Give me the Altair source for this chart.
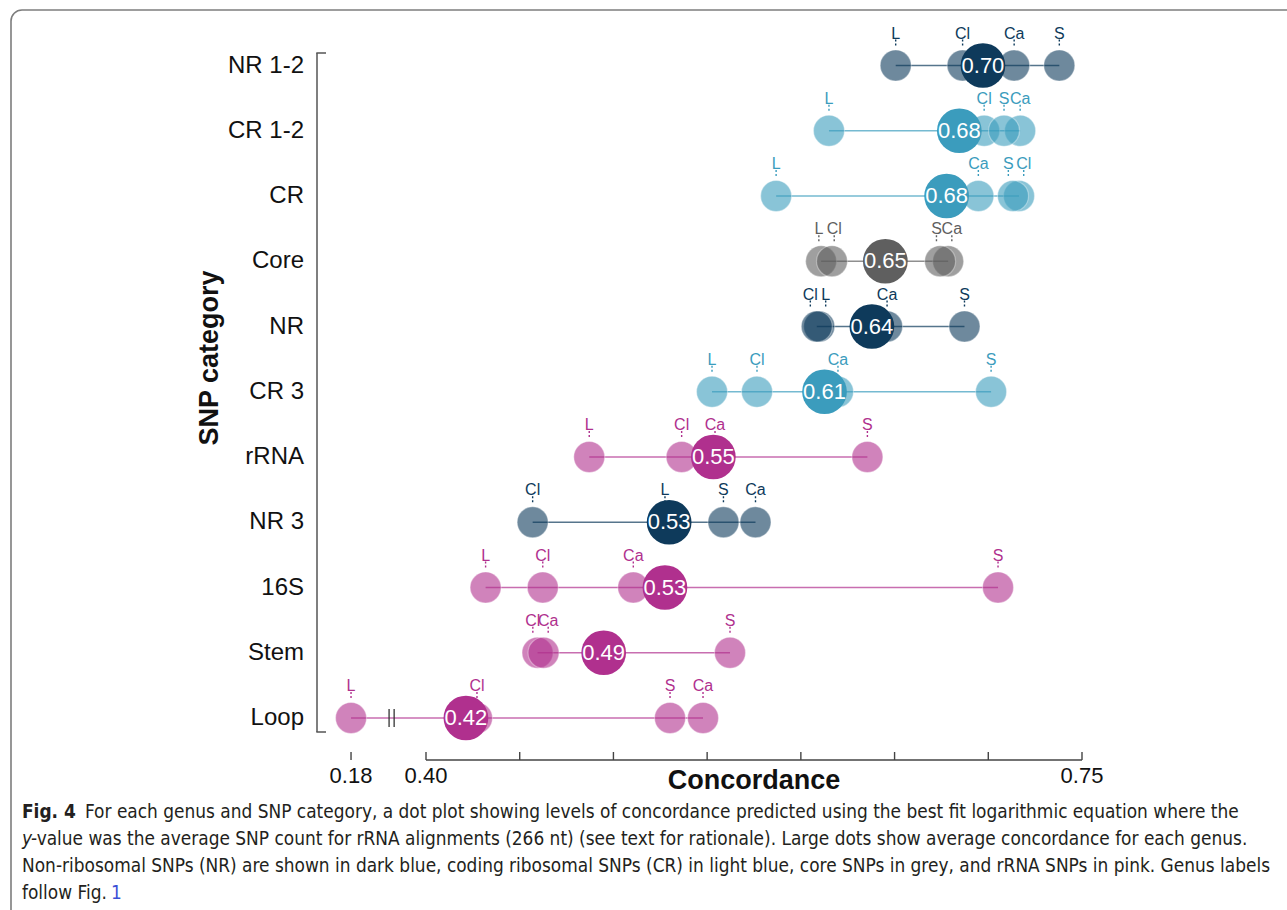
import altair as alt
import pandas as pd

# SNP categories, top to bottom, and the colour group each belongs to
CATEGORIES = ["NR 1-2", "CR 1-2", "CR", "Core", "NR", "CR 3", "rRNA", "NR 3", "16S", "Stem", "Loop"]
CATEGORY_GROUP = ["NR", "CR", "CR", "Core", "NR", "CR", "rRNA", "NR", "rRNA", "rRNA", "rRNA"]

# predicted concordance per genus (None = not available)
GENERA = ["L", "Cl", "Ca", "S"]
CONC_L = [0.6506, 0.6150, 0.5868, 0.6108, 0.6098, 0.5526, 0.4871, 0.5275, 0.4318, None, 0.18]
CONC_CL = [0.6863, 0.6978, 0.7164, 0.6166, 0.6085, 0.5766, 0.5364, 0.4569, 0.4623, 0.4595, 0.4272]
CONC_CA = [0.7138, 0.7170, 0.6947, 0.6786, 0.6460, 0.6198, 0.5542, 0.5758, 0.5106, 0.4627, 0.5478]
CONC_S = [0.7379, 0.7084, 0.7132, 0.6743, 0.6873, 0.7015, 0.6355, 0.5587, 0.7052, 0.5622, 0.5302]

GROUPS = ["NR", "CR", "Core", "rRNA"]
GROUP_COLORS = ["#0e3a5b", "#3b9cbd", "#5f5f5f", "#b0308e"]

AXIS_TICKS = [0.18, 0.40, 0.45, 0.50, 0.55, 0.60, 0.65, 0.70, 0.75]
AXIS_LABELLED = [0.18, 0.40, 0.75]

CAPTION = [
    "For each genus and SNP category, a dot plot showing levels of concordance predicted using the best fit logarithmic equation where the",
    "-value was the average SNP count for rRNA alignments (266 nt) (see text for rationale). Large dots show average concordance for each genus.",
    "Non-ribosomal SNPs (NR) are shown in dark blue, coding ribosomal SNPs (CR) in light blue, core SNPs in grey, and rRNA SNPs in pink. Genus labels",
    "follow Fig.",
]

# broken axis: values below the break are drawn shifted right
BREAK_AT = 0.40
BREAK_SHIFT = 0.18
BREAK_GLYPH = [0.3803, 0.3830]
LABEL_GAP = 0.0082

W, H = 1287, 910
FONT = "Liberation Sans"
CAP_FONT = "DejaVu Sans Condensed"

rows = []
for i, cat in enumerate(CATEGORIES):
    for genus, vals in zip(GENERA, [CONC_L, CONC_CL, CONC_CA, CONC_S]):
        if vals[i] is not None:
            rows.append({"category": cat, "group": CATEGORY_GROUP[i], "genus": genus, "conc": vals[i]})
points = pd.DataFrame(rows)

pos_expr = f"datum.conc < {BREAK_AT} ? datum.conc + {BREAK_SHIFT} : datum.conc"

x_scale = alt.Scale(domain=[0.40, 0.75], range=[426, 1082], zero=False, nice=False)
y_scale = alt.Scale(type="point", domain=CATEGORIES, range=[65.5, 718], padding=0)


def X(field):
    return alt.X(field, type="quantitative", scale=x_scale, axis=None)


Y = alt.Y("category:N", scale=y_scale, axis=None)
COLOR = alt.Color("group:N", scale=alt.Scale(domain=GROUPS, range=GROUP_COLORS), legend=None)

base = alt.Chart(points).transform_calculate(pos=pos_expr)

# figure frame
frame = alt.Chart(pd.DataFrame({"k": [0]})).mark_rect(
    fillOpacity=0, stroke="#7d7d7d", strokeWidth=1.6, cornerRadius=11, clip=True
).encode(x=alt.value(11), x2=alt.value(W + 60), y=alt.value(10), y2=alt.value(H + 60))

# range line for each category
spans = base.mark_rule(strokeWidth=1.6, opacity=0.7).encode(
    x=X("min(pos)"), x2=alt.X2("max(pos)"), y=Y, color=COLOR
)

# axis-break glyph on rows holding a value below the break
below = points[points["conc"] < BREAK_AT]
glyph_rows = [
    {"category": r.category, "at": g} for r in below.itertuples() for g in BREAK_GLYPH
]
glyph = alt.Chart(pd.DataFrame(glyph_rows)).mark_rule(
    color="#333333", strokeWidth=1.3, yOffset=-9, y2Offset=9
).encode(x=X("at"), y=Y, y2=alt.Y2("category"))

# one dot per genus
dots = base.mark_circle(
    size=960, fillOpacity=0.6, stroke="white", strokeWidth=1.2, strokeOpacity=0.35
).encode(x=X("pos"), y=Y, color=COLOR)

# labels nudged apart where dots crowd together
labelled = base.transform_window(
    prv="lag(pos)", nxt="lead(pos)", groupby=["category"], sort=[alt.SortField("pos", order="ascending")]
).transform_calculate(
    lab=(
        f"datum.pos"
        f" + (isValid(datum.nxt) && datum.nxt - datum.pos < {LABEL_GAP} ? -({LABEL_GAP} - (datum.nxt - datum.pos)) / 2 : 0)"
        f" + (isValid(datum.prv) && datum.pos - datum.prv < {LABEL_GAP} ? ({LABEL_GAP} - (datum.pos - datum.prv)) / 2 : 0)"
    )
)
connectors = labelled.mark_rule(strokeDash=[2, 2], strokeWidth=1.4, yOffset=-26, y2Offset=-18).encode(
    x=X("lab"), y=Y, y2=alt.Y2("category"), color=COLOR
)
genus_labels = labelled.mark_text(fontSize=16, font=FONT, yOffset=-32, baseline="middle").encode(
    x=X("lab"), y=Y, text="genus:N", color=COLOR
)

# average over genera
means = alt.Chart(points).transform_aggregate(
    mean_conc="mean(conc)", groupby=["category", "group"]
).transform_calculate(pos=f"datum.mean_conc < {BREAK_AT} ? datum.mean_conc + {BREAK_SHIFT} : datum.mean_conc")
mean_dots = means.mark_circle(size=2000, opacity=1).encode(x=X("pos"), y=Y, color=COLOR)
mean_text = means.mark_text(color="white", fontSize=22, font=FONT, baseline="middle").encode(
    x=X("pos"), y=Y, text=alt.Text("mean_conc:Q", format=".2f")
)

# y axis: category names and bracket
cat_labels = alt.Chart(pd.DataFrame({"category": CATEGORIES})).mark_text(
    align="right", baseline="middle", fontSize=24, font=FONT, color="#111111"
).encode(y=Y, x=alt.value(304), text="category:N")
one = pd.DataFrame({"k": [0]})
bracket = alt.layer(
    alt.Chart(one).mark_rule(color="#555555", strokeWidth=1.5).encode(
        x=alt.value(317), y=alt.value(53), y2=alt.value(732)),
    alt.Chart(one).mark_rule(color="#555555", strokeWidth=1.5).encode(
        x=alt.value(316.3), x2=alt.value(326), y=alt.value(53)),
    alt.Chart(one).mark_rule(color="#555555", strokeWidth=1.5).encode(
        x=alt.value(316.3), x2=alt.value(326), y=alt.value(732)),
)
y_title = alt.Chart(one).mark_text(
    text="SNP category", angle=270, fontSize=27, fontWeight="bold", font=FONT, color="#111111",
    baseline="middle", align="center"
).encode(x=alt.value(210), y=alt.value(358))

# x axis: ticks, line, labels and title
ticks = pd.DataFrame({"conc": AXIS_TICKS})
x_ticks = alt.Chart(ticks).transform_calculate(pos=pos_expr).mark_rule(
    color="#444444", strokeWidth=1.4
).encode(x=X("pos"), y=alt.value(752), y2=alt.value(760))
upper = [t for t in AXIS_TICKS if t >= BREAK_AT]
x_line = alt.Chart(pd.DataFrame({"lo": [min(upper)], "hi": [max(upper)]})).mark_rule(
    color="#444444", strokeWidth=1.6
).encode(x=X("lo"), x2=alt.X2("hi"), y=alt.value(760))
x_labels = alt.Chart(pd.DataFrame({"conc": AXIS_LABELLED})).transform_calculate(pos=pos_expr).mark_text(
    fontSize=22, font=FONT, color="#111111", baseline="middle"
).encode(x=X("pos"), y=alt.value(776), text=alt.Text("conc:Q", format=".2f"))
x_title = alt.Chart(one).mark_text(
    text="Concordance", fontSize=27, fontWeight="bold", font=FONT, color="#111111", baseline="middle"
).encode(x=alt.value(754), y=alt.value(781))

# caption
cap_style = dict(font=CAP_FONT, fontSize=18.9, color="#231f20", align="left", baseline="middle")
caption = alt.layer(
    alt.Chart(one).mark_text(text="Fig. 4", fontWeight="bold", **cap_style).encode(
        x=alt.value(22), y=alt.value(812)),
    alt.Chart(one).mark_text(text=CAPTION[0], **cap_style).encode(x=alt.value(85), y=alt.value(812)),
    alt.Chart(one).mark_text(text="y", fontStyle="italic", **cap_style).encode(x=alt.value(22), y=alt.value(839)),
    alt.Chart(one).mark_text(text=CAPTION[1], **cap_style).encode(x=alt.value(31), y=alt.value(839)),
    alt.Chart(one).mark_text(text=CAPTION[2], **cap_style).encode(x=alt.value(22), y=alt.value(866)),
    alt.Chart(one).mark_text(text=CAPTION[3], **cap_style).encode(x=alt.value(22), y=alt.value(893)),
    alt.Chart(one).mark_text(text="1", **{**cap_style, "color": "#3b4fd6"}).encode(
        x=alt.value(111), y=alt.value(893)),
)

chart = alt.layer(
    frame, spans, glyph, dots, connectors, mean_dots, mean_text, genus_labels,
    cat_labels, bracket, y_title, x_ticks, x_line, x_labels, x_title, caption,
).properties(
    width=W, height=H, padding=0, autosize=alt.AutoSizeParams(type="none"), background="white"
).configure_view(stroke="transparent")

chart.save("out.html", embed_options={"renderer": "svg", "actions": False})
